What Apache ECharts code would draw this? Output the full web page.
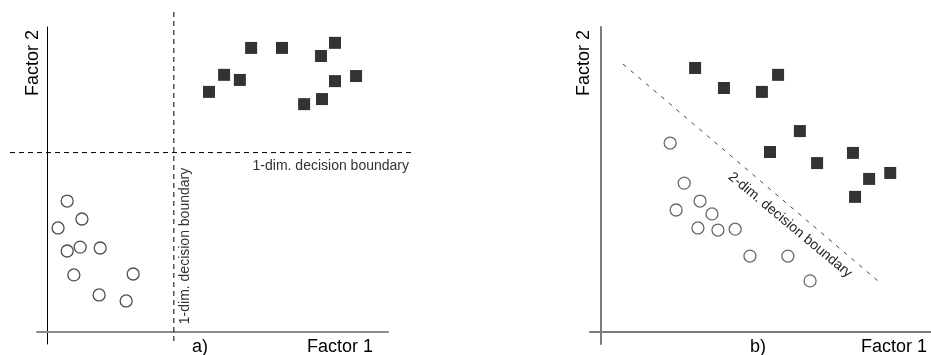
<!DOCTYPE html>
<html>
<head>
<meta charset="utf-8">
<script src="https://cdn.jsdelivr.net/npm/echarts@6/dist/echarts.min.js"></script>
<style>
html,body{margin:0;padding:0;background:#fff;}
#chart{width:931px;height:355px;}
</style>
</head>
<body>
<div id="chart"></div>
<script>
// ---- Data (abstract factor units) ----
// Panel a)
const aSquares = [[4.60,8.03],[5.03,8.60],[5.48,8.43],[5.80,9.50],[6.68,9.50],[7.79,9.23],[8.19,9.67],[8.79,8.56],[8.19,8.39],[7.82,7.79],[7.31,7.62]];
const aCircles = [[0.56,4.38],[0.98,3.78],[0.30,3.48],[0.56,2.71],[0.93,2.84],[1.50,2.81],[0.75,1.91],[2.44,1.94],[1.47,1.24],[2.24,1.04]];
const aBoundaryH = [[-1.068,6.0],[10.413,6.0]];
const aBoundaryV = [[3.60,10.70],[3.60,-0.40]];
// Panel b)
const bSquares = [[2.69,8.83],[3.51,8.16],[4.59,8.03],[5.05,8.60],[5.67,6.72],[4.82,6.02],[6.16,5.65],[7.18,5.99],[7.64,5.12],[8.24,5.32],[7.24,4.52]];
const bCircles = [[1.98,6.32],[2.38,4.98],[2.83,4.38],[2.15,4.08],[3.17,3.95],[2.77,3.48],[3.34,3.41],[3.83,3.44],[4.25,2.54],[5.33,2.54],[5.96,1.71]];
const bBoundary = [[0.64,8.96],[7.89,1.71]];
// Texts
const xName = 'Factor 1';
const yName = 'Factor 2';
const panelLabels = ['a)','b)'];
const boundary1Label = '1-dim. decision boundary';
const boundary2Label = '2-dim. decision boundary';

const FONT = '"Liberation Sans", Arial, sans-serif';
const chart = echarts.init(document.getElementById('chart'), null, {renderer:'canvas'});

function axisX(idx, min, max, color, width){
  return {type:'value', gridIndex:idx, min:min, max:max,
    axisLine:{show:!!color, onZero:true, lineStyle:{color:color||'#000', width:width||1}},
    axisTick:{show:false}, axisLabel:{show:false}, splitLine:{show:false}};
}
function axisY(idx, min, max, color, width){
  return {type:'value', gridIndex:idx, min:min, max:max,
    axisLine:{show:!!color, onZero:true, lineStyle:{color:color||'#000', width:width||1}},
    axisTick:{show:false}, axisLabel:{show:false}, splitLine:{show:false}};
}
function squares(data, idx){
  return {type:'scatter', xAxisIndex:idx, yAxisIndex:idx, data:data, symbol:'rect', symbolSize:12,
    itemStyle:{color:'#000'}, silent:true, z:5};
}
function circles(data, idx, stroke){
  return {type:'scatter', xAxisIndex:idx, yAxisIndex:idx, data:data, symbol:'circle', symbolSize:12,
    itemStyle:{color:'#fff', borderColor:stroke, borderWidth:1.3}, silent:true, z:5};
}
function dashed(data, idx, color, dash){
  return {type:'line', xAxisIndex:idx, yAxisIndex:idx, data:data, symbol:'none', clip:false, silent:true,
    lineStyle:{color:color, width:1, type:dash}, z:3};
}
function txt(text, x, y, size, rot, align, color){
  return {type:'text', x:x, y:y, rotation:rot||0, silent:true,
    style:{text:text, font:size+'px '+FONT, fill:color||'#000', textAlign:align||'center', textVerticalAlign:'middle'}};
}

chart.setOption({
  animation:false,
  backgroundColor:'#fff',
  grid:[
    {left:37, top:27, width:351, height:317},
    {left:590, top:27, width:341, height:317},
    {left:10, top:12, width:403, height:332}
  ],
  xAxis:[axisX(0, -0.3, 9.7, '#8a8a8a', 2), axisX(1, -0.3, 9.4, '#7a7a7a', 2), axisX(2, -1.068, 10.413)],
  yAxis:[axisY(0, -0.4, 10.2, '#000', 1), axisY(1, -0.4, 10.2, '#7a7a7a', 2), axisY(2, -0.4, 10.70)],
  series:[
    dashed(aBoundaryH, 2, '#000', [5,4]),
    dashed(aBoundaryV, 2, '#000', [5,4]),
    squares(aSquares, 0),
    circles(aCircles, 0, '#222'),
    dashed(bBoundary, 1, '#444', [4,6]),
    squares(bSquares, 1),
    circles(bCircles, 1, '#444')
  ],
  graphic:[
    txt(yName, 33, 63, 18, Math.PI/2),
    txt(yName, 584, 63, 18, Math.PI/2),
    txt(xName, 340, 347, 18),
    txt(xName, 894, 347, 18),
    txt(panelLabels[0], 200, 347, 18),
    txt(panelLabels[1], 758, 347, 18),
    txt(boundary1Label, 409, 166, 14, 0, 'right', '#333'),
    txt(boundary1Label, 185, 246, 14, Math.PI/2, 'center', '#333'),
    txt(boundary2Label, 790, 225, 14, -0.695, 'center', '#222')
  ]
});
</script>
</body>
</html>
